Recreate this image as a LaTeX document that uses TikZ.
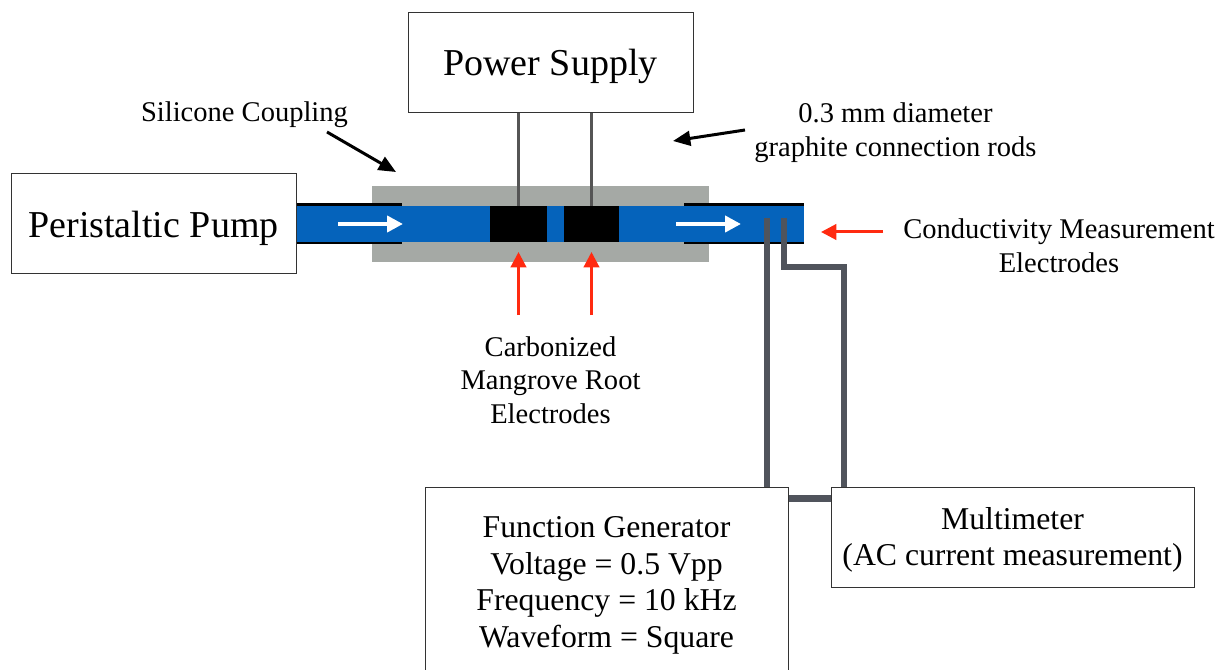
\documentclass[tikz,border=0pt]{standalone}
\usepackage{fontspec}
\setmainfont{Liberation Serif}
\usetikzlibrary{arrows.meta, positioning, calc}
\definecolor{tubeblue}{HTML}{0563BB}
\definecolor{couplinggray}{HTML}{A5A9A5}
\definecolor{wiregray}{HTML}{50545C}
\definecolor{rodgray}{HTML}{555555}
\definecolor{labelred}{HTML}{FF2A10}
\newcommand{\lowerline}{\rule{0pt}{21pt}}

\begin{document}
\begin{tikzpicture}[
  x=0.75pt, y=-0.75pt,
  box/.style = {draw=black!80, line width=0.75pt, inner sep=0pt, align=center},
  bigbox/.style = {box, minimum width=213.75pt, minimum height=75pt, text height=23pt, text depth=3.3pt, font=\fontsize{28.5}{34}\selectfont},
  infobox/.style = {box, minimum width=272.25pt, font=\fontsize{23.8}{27.4}\selectfont},
  label/.style = {inner sep=0pt, align=center, font=\fontsize{21.4}{25.3}\selectfont},
  part/.style = {inner sep=0pt, outer sep=0pt, minimum height=27pt},
  electrode/.style = {part, fill=black},
  wall/.style = {black, line width=1.9pt},
  rod/.style = {rodgray, line width=2.25pt},
  wire/.style = {wiregray, line width=4.5pt},
  flow/.style = {white, line width=3pt, -{Triangle[length=12pt, width=12pt]}},
  pointer/.style = {black, line width=2.25pt, -{Triangle[length=13pt, width=11pt]}},
  callout/.style = {labelred, line width=2.25pt, -{Triangle[length=11.5pt, width=11.5pt]}}
]
\useasboundingbox (0,0) rectangle (1224,670);
\clip (0,0) rectangle (1224,670);

% Tube and coupling
\node[part, fill=couplinggray, minimum width=252.75pt, minimum height=57pt] (coupling) at (540.5,224) {};
\node[part, fill=tubeblue, minimum width=381.75pt] (tube) at (549.5,224) {};
\draw[wall] (296,204.5) -- (402,204.5);
\draw[wall] (296,243) -- (402,243);
\draw[wall] (684,204.5) -- (804,204.5);
\draw[wall] (684,243) -- (804,243);

% Electrodes
\node[electrode, minimum width=42.75pt] (rootA) at (518.5,224) {};
\node[electrode, minimum width=41.25pt, right=12.75pt of rootA] (rootB) {};

% Boxes
\node[bigbox] (supply) at (550.5,62.5) {Power Supply};
\node[bigbox, fill=white] (pump) at (153.5,224) {Peristaltic Pump};
\node[infobox, minimum height=142.5pt] (generator) at (606.5,582) {\lowerline Function Generator\\Voltage = 0.5 Vpp\\Frequency = 10 kHz\\Waveform = Square};
\node[infobox, minimum height=75pt, right=31.5pt of generator.north east, anchor=north west] (multimeter) {\lowerline Multimeter\\(AC current measurement)};

% Connection rods
\draw[rod] (rootA.north |- supply.south) -- (rootA.north);
\draw[rod] (rootB.north |- supply.south) -- (rootB.north);

% Measurement wires
\coordinate (probeA) at (767,218);
\coordinate (probeB) at (784,218);
\draw[wire] (probeA) -- (probeA |- generator.north);
\draw[wire] (probeB) |- (844,267) -- (844,487);
\draw[wire, line width=5.25pt] ([yshift=-9pt]generator.north east) -- ([yshift=-9pt]multimeter.north west);

% Flow arrows
\draw[flow] (338,224) -- (403,224);
\draw[flow] (676,224) -- (741,224);

% Labels
\node[label] (siliconeText) at (244.5,115) {Silicone Coupling};
\node[label] (rodsText) at (895.5,133) {0.3 mm diameter\\graphite connection rods};
\node[label] (rootsText) at (550.5,380) {Carbonized\\Mangrove Root\\Electrodes};
\node[label] (probesText) at (1059,245.5) {Conductivity Measurement\\Electrodes};

% Pointers
\draw[pointer] (327,132) -- (396,172);
\draw[pointer] (745,130) -- (673,141);
\draw[callout] (rootA.south |- 0,315) -- (rootA.south |- 0,252);
\draw[callout] (rootB.south |- 0,315) -- (rootB.south |- 0,252);
\draw[callout] (883,232) -- (821,232);

\end{tikzpicture}
\end{document}
